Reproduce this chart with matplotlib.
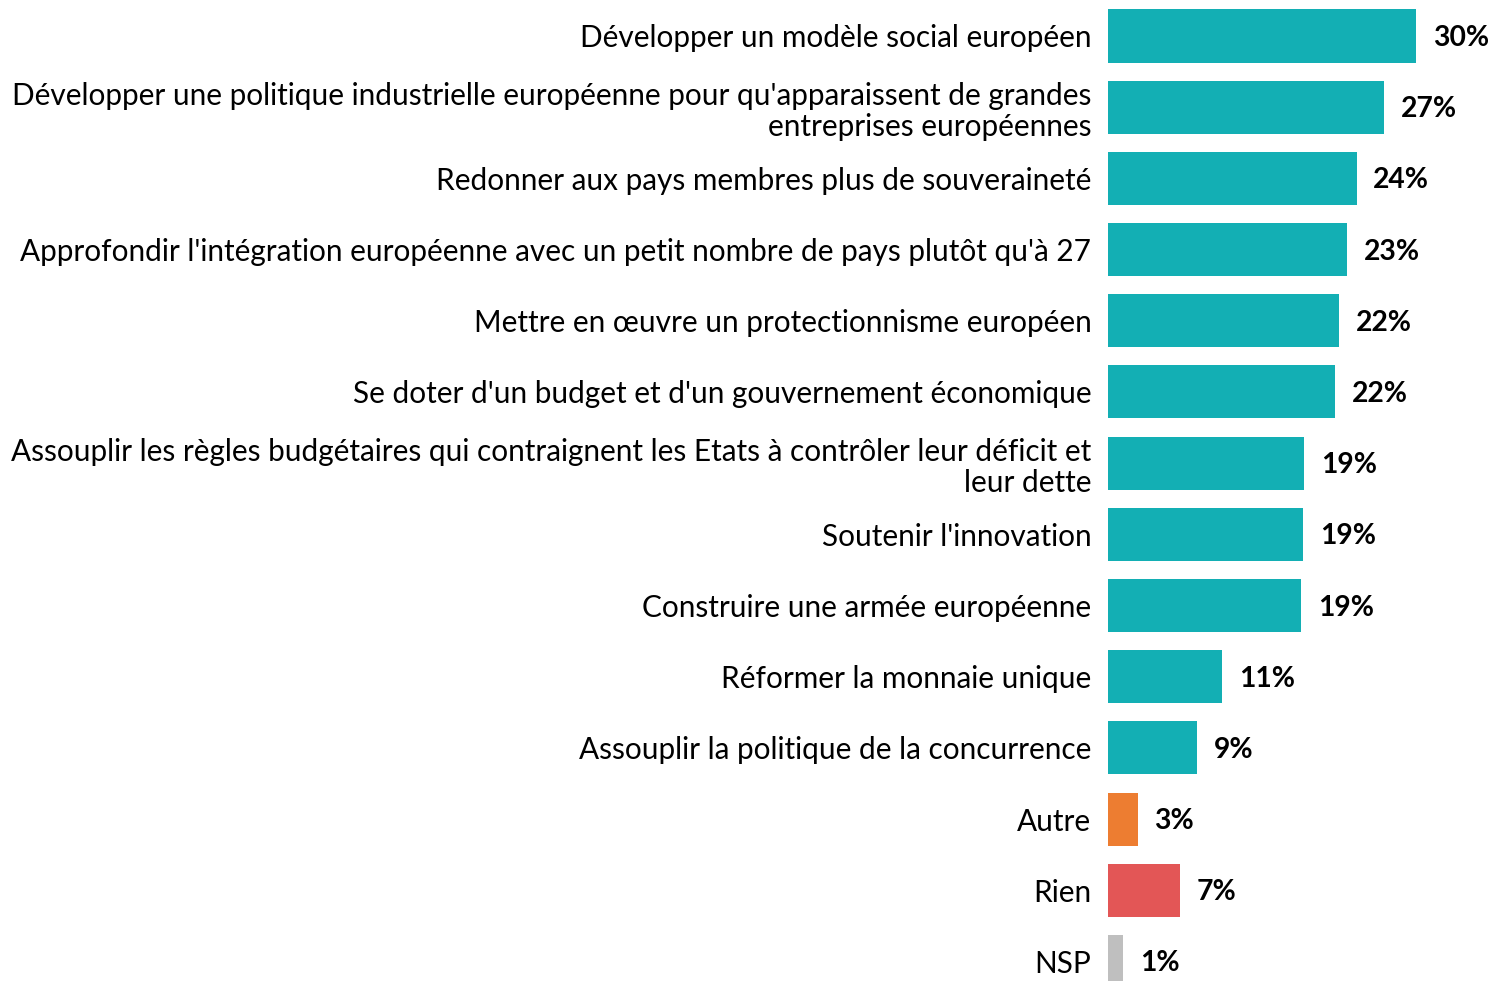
import matplotlib.pyplot as plt

plt.rcParams['font.family'] = ['Lato', 'DejaVu Sans']

labels = [
    "Développer un modèle social européen",
    "Développer une politique industrielle européenne pour qu'apparaissent de grandes\nentreprises européennes",
    "Redonner aux pays membres plus de souveraineté",
    "Approfondir l'intégration européenne avec un petit nombre de pays plutôt qu'à 27",
    "Mettre en œuvre un protectionnisme européen",
    "Se doter d'un budget et d'un gouvernement économique",
    "Assouplir les règles budgétaires qui contraignent les Etats à contrôler leur déficit et\nleur dette",
    "Soutenir l'innovation",
    "Construire une armée européenne",
    "Réformer la monnaie unique",
    "Assouplir la politique de la concurrence",
    "Autre",
    "Rien",
    "NSP",
]
values = [30.0, 26.9, 24.2, 23.3, 22.5, 22.1, 19.1, 19.0, 18.8, 11.1, 8.7, 2.9, 7.0, 1.5]
value_labels = ["30%", "27%", "24%", "23%", "22%", "22%", "19%", "19%", "19%",
                "11%", "9%", "3%", "7%", "1%"]
colors = ["#13AFB4"] * 11 + ["#ED7D31", "#E35656", "#BFBFBF"]

fig = plt.figure(figsize=(14.93, 9.81), dpi=100)
# axes spans from bar start to the right edge; bottom row is clipped by the figure
ax = fig.add_axes([1108 / 1493, -16 / 981, 385 / 1493, 996.6 / 981])

ypos = list(range(len(labels)))
ax.barh(ypos, values, height=0.745, color=colors)
ax.set_ylim(len(labels) - 0.5, -0.5)
ax.set_xlim(0, 385 / 10.27)

ax.set_yticks(ypos)
ax.set_yticklabels(labels, fontsize=21.4, color="black", linespacing=1.16)
ax.tick_params(axis="y", length=0, pad=12)
ax.set_xticks([])
for s in ax.spines.values():
    s.set_visible(False)

for y, v, t in zip(ypos, values, value_labels):
    ax.annotate(t, (v, y), xytext=(12, -1.5), textcoords="offset points",
                va="center", ha="left", fontsize=20.3, fontweight="bold")

fig.savefig("out.png", dpi=100)
